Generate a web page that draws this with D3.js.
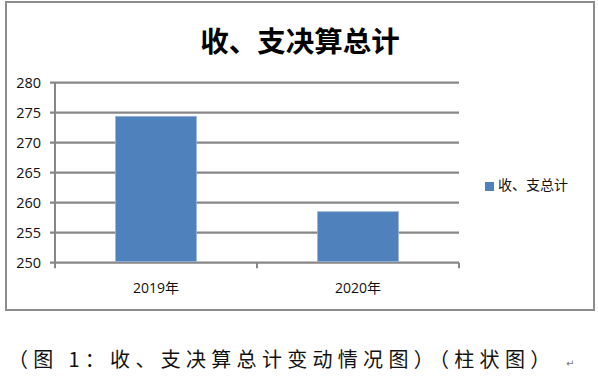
<!DOCTYPE html>
<html>
<head>
<meta charset="utf-8">
<script src="https://cdn.jsdelivr.net/npm/d3@7"></script>
<style>
  body { margin: 0; background: #fff; }
  svg { display: block; }
</style>
</head>
<body>
<div id="chart"></div>
<script>
// --- DATA ---
const categories = ["2019年", "2020年"];
const totals = [274.4, 258.5];
const yTicks = [250, 255, 260, 265, 270, 275, 280];
const seriesName = "收、支总计";
const chartTitle = "收、支决算总计";
const caption = "（图 1：收、支决算总计变动情况图）（柱状图）";

const W = 598, H = 378;
const svg = d3.select("#chart").append("svg").attr("width", W).attr("height", H);

// outer chart frame
svg.append("rect")
    .attr("x", 6).attr("y", 2).attr("width", 588).attr("height", 308)
    .attr("fill", "#fff").attr("stroke", "#8c8c8c").attr("stroke-width", 2);

svg.append("text")
    .attr("x", 300).attr("y", 52)
    .attr("text-anchor", "middle")
    .attr("font-family", "'Noto Sans CJK SC', sans-serif")
    .attr("font-weight", "bold").attr("font-size", 28.5)
    .text(chartTitle);

// --- SCALES ---
const plot = { left: 55, right: 459, top: 82.7, bottom: 262.7 };
const x = d3.scaleBand().domain(categories).range([plot.left, plot.right]).paddingInner(0.6).paddingOuter(0.3);
const xCat = d3.scaleBand().domain(categories).range([plot.left, plot.right]);
const y = d3.scaleLinear().domain([250, 280]).range([plot.bottom, plot.top]);

const grey = "#878787";

// gridlines
svg.append("g").selectAll("line").data(yTicks).join("line")
    .attr("x1", plot.left - 5).attr("x2", plot.right)
    .attr("y1", d => y(d)).attr("y2", d => y(d))
    .attr("stroke", grey).attr("stroke-width", 2.2);

// y labels
svg.append("g").selectAll("text").data(yTicks).join("text")
    .attr("x", 41).attr("y", d => y(d) + 5.5)
    .attr("text-anchor", "end")
    .attr("font-family", "'Open Sans', 'Noto Sans', sans-serif").attr("font-size", 14.5)
    .attr("fill", "#111")
    .text(d => d);

// y axis line
svg.append("line")
    .attr("x1", plot.left).attr("x2", plot.left)
    .attr("y1", plot.top).attr("y2", plot.bottom + 5)
    .attr("stroke", grey).attr("stroke-width", 2);

// x-axis category ticks
const xTickPos = [plot.left, ...categories.map(c => xCat(c) + xCat.bandwidth())];
svg.append("g").selectAll("line").data(xTickPos).join("line")
    .attr("x1", d => d).attr("x2", d => d)
    .attr("y1", plot.bottom).attr("y2", plot.bottom + 5.5)
    .attr("stroke", grey).attr("stroke-width", 2);

// bars
svg.append("g").selectAll("rect").data(totals).join("rect")
    .attr("x", (d, i) => x(categories[i]))
    .attr("width", x.bandwidth())
    .attr("y", d => y(d))
    .attr("height", d => plot.bottom - 1 - y(d))
    .attr("fill", "#4f81bd")
    .attr("stroke", "#9ab4d8").attr("stroke-width", 0.8);

// x labels
svg.append("g").selectAll("text").data(categories).join("text")
    .attr("x", d => xCat(d) + xCat.bandwidth() / 2)
    .attr("y", 293)
    .attr("text-anchor", "middle")
    .attr("font-family", "'Open Sans', 'Noto Sans CJK SC', sans-serif").attr("font-size", 14)
    .attr("fill", "#111")
    .text(d => d);

// legend
const legend = svg.append("g").attr("transform", "translate(485,181)");
legend.append("rect").attr("width", 9).attr("height", 9).attr("y", 1).attr("fill", "#4f81bd");
legend.append("text")
    .attr("x", 13).attr("y", 9)
    .attr("font-family", "'Noto Sans CJK SC', sans-serif").attr("font-size", 14)
    .attr("fill", "#111")
    .text(seriesName);

// caption below the frame
svg.append("text")
    .attr("x", 8).attr("y", 367)
    .attr("font-family", "'Noto Sans CJK SC', serif").attr("font-size", 20)
    .attr("letter-spacing", 5.3)
    .attr("fill", "#111")
    .text(caption);
svg.append("text")
    .attr("x", 566).attr("y", 367)
    .attr("font-family", "'DejaVu Sans', sans-serif").attr("font-size", 10)
    .attr("fill", "#777")
    .text("↵");
</script>
</body>
</html>
